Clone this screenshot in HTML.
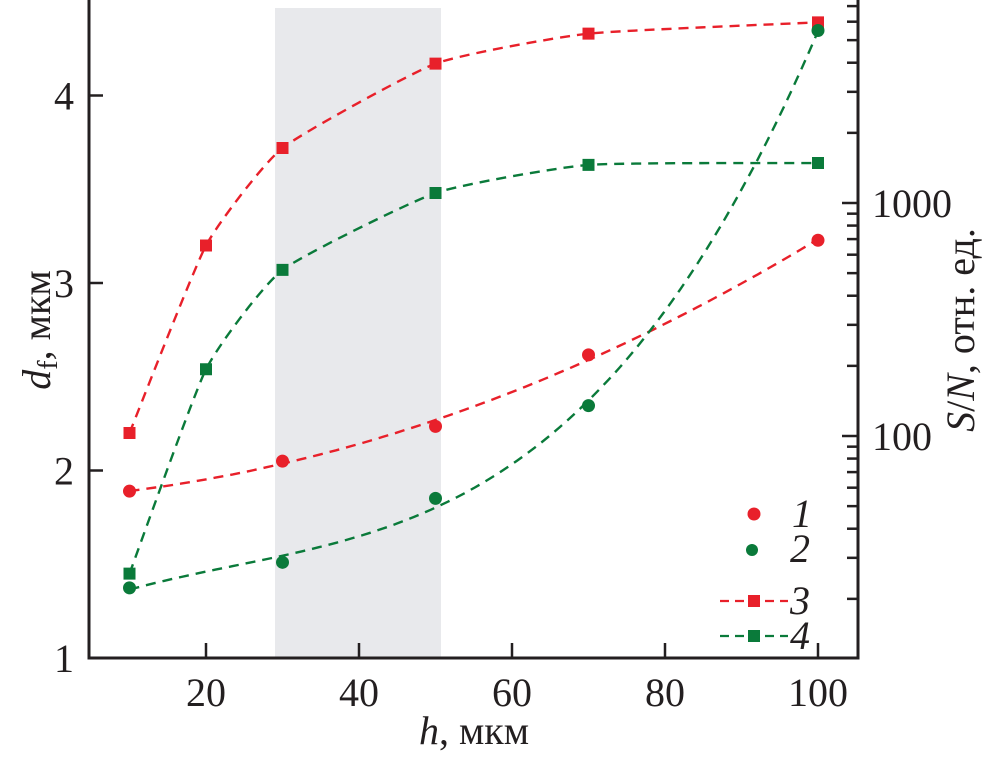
<!DOCTYPE html>
<html><head><meta charset="utf-8"><style>
body{margin:0;background:#fff;}
svg text{font-family:"Liberation Serif","Times New Roman",serif;fill:#231f20;}
</style></head><body>
<svg id="chart" width="985" height="754" viewBox="0 0 985 754" xmlns="http://www.w3.org/2000/svg">
<rect x="275" y="8" width="166" height="650" fill="#e8e9ec"/>
<g id="marks"></g>
<g id="axes"></g>
<text transform="translate(50,330) rotate(-90)" text-anchor="middle" font-size="40"><tspan font-style="italic">d</tspan><tspan font-size="28" dy="7">f</tspan><tspan dy="-7">, мкм</tspan></text>
<text transform="translate(974,330) rotate(-90)" text-anchor="middle" font-size="40"><tspan font-style="italic">S</tspan>/<tspan font-style="italic">N</tspan>, отн. ед.</text>
<text x="474" y="744" text-anchor="middle" font-size="40"><tspan font-style="italic">h</tspan>, мкм</text>
<g>
<circle cx="754" cy="514" r="6.5" fill="#e8202a"/>
<text x="792" y="527" font-size="40" font-style="italic">1</text>
<circle cx="752" cy="550" r="6" fill="#0a7a3a"/>
<text x="790" y="562" font-size="40" font-style="italic">2</text>
<line x1="720" y1="601" x2="788" y2="601" stroke="#e8202a" stroke-width="2.2" stroke-dasharray="9,6"/>
<rect x="748" y="595" width="12" height="12" fill="#e8202a"/>
<text x="790" y="614" font-size="40" font-style="italic">3</text>
<line x1="720" y1="636" x2="788" y2="636" stroke="#0a7a3a" stroke-width="2.2" stroke-dasharray="9,6"/>
<rect x="748" y="630" width="12" height="12" fill="#0a7a3a"/>
<text x="790" y="649" font-size="40" font-style="italic">4</text>
</g>
</svg>
<script>
const hValues=[10,20,30,50,70,100];
const series3=[2.20,3.20,3.72,4.17,4.33,4.39];
const series4=[1.45,2.54,3.07,3.48,3.63,3.64];
const hCircles=[10,30,50,70,100];
const series1=[58,78,110,223,692];
const series2=[22.3,28.7,54,135,5500];
const xTicks=[20,40,60,80,100];
const yTicks=[1,2,3,4];
const y2Major=[100,1000];

const NS="http://www.w3.org/2000/svg";
const X=v=>129.5+(v-10)*7.65;
const Y=v=>658-(v-1)*187.5;
const Y2=v=>436-(Math.log10(v)-2)*233;
const RED="#e8202a",GREEN="#0a7a3a";
const marks=document.getElementById('marks'),axes=document.getElementById('axes');
function mk(tag,attrs,parent){const e=document.createElementNS(NS,tag);for(const k in attrs)e.setAttribute(k,attrs[k]);parent.appendChild(e);return e;}
function smooth(pts,t){let d=`M${pts[0][0]},${pts[0][1]}`;for(let i=0;i<pts.length-1;i++){const p0=pts[i-1]||pts[i],p1=pts[i],p2=pts[i+1],p3=pts[i+2]||p2;const c1=[p1[0]+(p2[0]-p0[0])*t,p1[1]+(p2[1]-p0[1])*t],c2=[p2[0]-(p3[0]-p1[0])*t,p2[1]-(p3[1]-p1[1])*t];d+=` C${c1[0]},${c1[1]} ${c2[0]},${c2[1]} ${p2[0]},${p2[1]}`;}return d;}
// polynomial least squares fit in log space
function fitCurve(xs,vals,deg){const n=deg+1;const ys=vals.map(v=>Math.log10(v));const xn=xs.map(x=>(x-50)/50);
 const A=[];for(let i=0;i<n;i++){A.push(new Array(n+1).fill(0));}
 xn.forEach((x,p)=>{for(let i=0;i<n;i++){for(let j=0;j<n;j++)A[i][j]+=Math.pow(x,i+j);A[i][n]+=Math.pow(x,i)*ys[p];}});
 for(let i=0;i<n;i++){for(let j=i+1;j<n;j++){const f=A[j][i]/A[i][i];for(let k=i;k<=n;k++)A[j][k]-=f*A[i][k];}}
 const c=new Array(n).fill(0);for(let i=n-1;i>=0;i--){let s=A[i][n];for(let k=i+1;k<n;k++)s-=A[i][k]*c[k];c[i]=s/A[i][i];}
 const pts=[];const x0=xs[0],x1=xs[xs.length-1];for(let i=0;i<=80;i++){const x=x0+(x1-x0)*i/80;const u=(x-50)/50;let l=0;for(let k=0;k<n;k++)l+=c[k]*Math.pow(u,k);pts.push([X(x),Y2(Math.pow(10,l))]);}
 return 'M'+pts.map(p=>p[0].toFixed(1)+','+p[1].toFixed(1)).join(' L');}
function drawPath(d,color,name){const p=mk('path',{d:d,fill:'none',stroke:color,'stroke-width':2.4,'stroke-dasharray':'10,7'},marks);

}
drawPath(smooth(hValues.map((h,i)=>[X(h),Y(series3[i])]),0.08),RED,'series-3-line');
drawPath(smooth(hValues.map((h,i)=>[X(h),Y(series4[i])]),0.08),GREEN,'series-4-line');
drawPath(fitCurve(hCircles,series1,2),RED,'series-1-fit');
drawPath(fitCurve(hCircles,series2,3),GREEN,'series-2-fit');
hValues.forEach((h,i)=>{
 const a=mk('rect',{x:X(h)-6,y:Y(series3[i])-6,width:12,height:12,fill:RED},marks);
 
 
 const b=mk('rect',{x:X(h)-6,y:Y(series4[i])-6,width:12,height:12,fill:GREEN},marks);
 
 
});
hCircles.forEach((h,i)=>{
 const a=mk('circle',{cx:X(h),cy:Y2(series1[i]),r:6.5,fill:RED},marks);
 
 
 const b=mk('circle',{cx:X(h),cy:Y2(series2[i]),r:6.5,fill:GREEN},marks);
 
 
});
const frame=mk('path',{d:'M89,0 L89,658 L858,658 L858,0',fill:'none',stroke:'#231f20','stroke-width':3},axes);


xTicks.forEach(t=>{
 const l=mk('line',{x1:X(t),x2:X(t),y1:658,y2:643,stroke:'#231f20','stroke-width':2.5},axes);
 
 
 const tx=mk('text',{x:X(t),y:706,'text-anchor':'middle','font-size':40},axes);
 tx.textContent=t;
 
 
});
yTicks.forEach(t=>{
 const l=mk('line',{x1:89,x2:103,y1:Y(t),y2:Y(t),stroke:'#231f20','stroke-width':2.5},axes);
 
 
 const tx=mk('text',{x:74,y:Y(t)+14,'text-anchor':'end','font-size':40},axes);
 tx.textContent=t;
 
 
});
for(let dec=10;dec<=10000;dec*=10){for(let m=1;m<10;m++){const v=dec*m,y=Y2(v);if(y<0||y>658)continue;
 const len=m===1?16:11;
 const l=mk('line',{x1:858-len,x2:858,y1:y,y2:y,stroke:'#231f20','stroke-width':2.5},axes);
 
 }}
y2Major.forEach(t=>{
 const tx=mk('text',{x:872,y:Y2(t)+14,'font-size':40},axes);
 tx.textContent=t;
 
 
});
</script>
</body></html>
